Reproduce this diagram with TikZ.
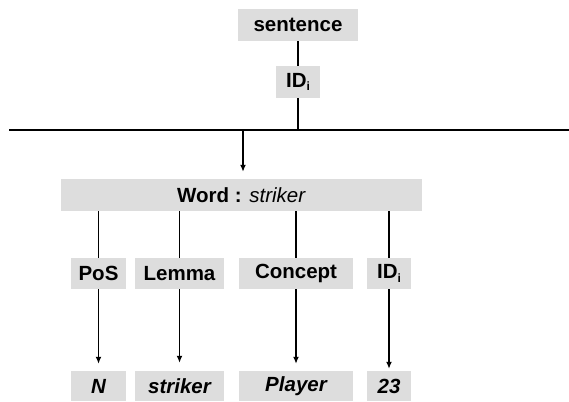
\documentclass[tikz,border=0pt]{standalone}
\usepackage{fontspec}
\setmainfont{Liberation Sans}
\usetikzlibrary{arrows.meta}
\definecolor{boxgray}{HTML}{DDDDDD}
\newcommand{\IDi}{ID\raisebox{-3.5pt}{\fontsize{12}{12}\selectfont i}}
\tikzset{
  gbox/.style={fill=boxgray, draw=none, inner sep=0pt, font=\fontsize{20.5}{24}\selectfont\bfseries},
  conn/.style={line width=1.6pt, draw=black},
  arr/.style={conn, -{Latex[length=7pt,width=6pt]}}
}
\begin{document}
\begin{tikzpicture}[x=1pt,y=-1pt]
\useasboundingbox (0,0) rectangle (569,401);
% top
\node[gbox, minimum width=120pt, minimum height=32pt] (sent) at (298,25) {sentence};
\node[gbox, minimum width=44pt, minimum height=32pt] (idtop) at (298,82) {\IDi};
\coordinate (hl) at (9,130);
\coordinate (hr) at (569,130);
\coordinate (hj) at (298,130);
\coordinate (as) at (243,130);
\draw[conn] (hl) -- (hr);
\draw[conn] (sent.south) -- (idtop.north);
\draw[conn] (idtop.south) -- (hj);
% word
\node[gbox, minimum width=361pt, minimum height=32pt] (word) at (241.5,195) {Word : \textmd{\itshape striker}};
\draw[arr, shorten >=7pt] (as) -- (as |- word.north);
% middle
\node[gbox, minimum width=55pt, minimum height=31pt] (pos) at (98.5,273.5) {PoS};
\node[gbox, minimum width=89pt, minimum height=31pt] (lem) at (179.5,273.5) {Lemma};
\node[gbox, minimum width=114pt, minimum height=31pt] (con) at (296,273.5) {Concept};
\node[gbox, minimum width=44pt, minimum height=31pt] (idm) at (389,273.5) {\IDi};
\draw[conn] (pos.north |- word.south) -- (pos.north);
\draw[conn] (lem.north |- word.south) -- (lem.north);
\draw[conn] (con.north |- word.south) -- (con.north);
\draw[conn] (idm.north |- word.south) -- (idm.north);
% bottom
\node[gbox, minimum width=55pt, minimum height=30pt] (vpos) at (98.5,386) {\itshape N};
\node[gbox, minimum width=89pt, minimum height=30pt] (vlem) at (179.5,386) {\itshape striker};
\node[gbox, minimum width=114pt, minimum height=30pt] (vcon) at (296,386) {\itshape Player};
\node[gbox, minimum width=44pt, minimum height=30pt] (vid) at (389,386) {\itshape 23};
\draw[arr, shorten >=7pt] (pos.south) -- (vpos.north);
\draw[arr, shorten >=8pt] (lem.south) -- (vlem.north);
\draw[arr, shorten >=7pt] (con.south) -- (vcon.north);
\draw[arr, shorten >=2pt] (idm.south) -- (vid.north);
\end{tikzpicture}
\end{document}
